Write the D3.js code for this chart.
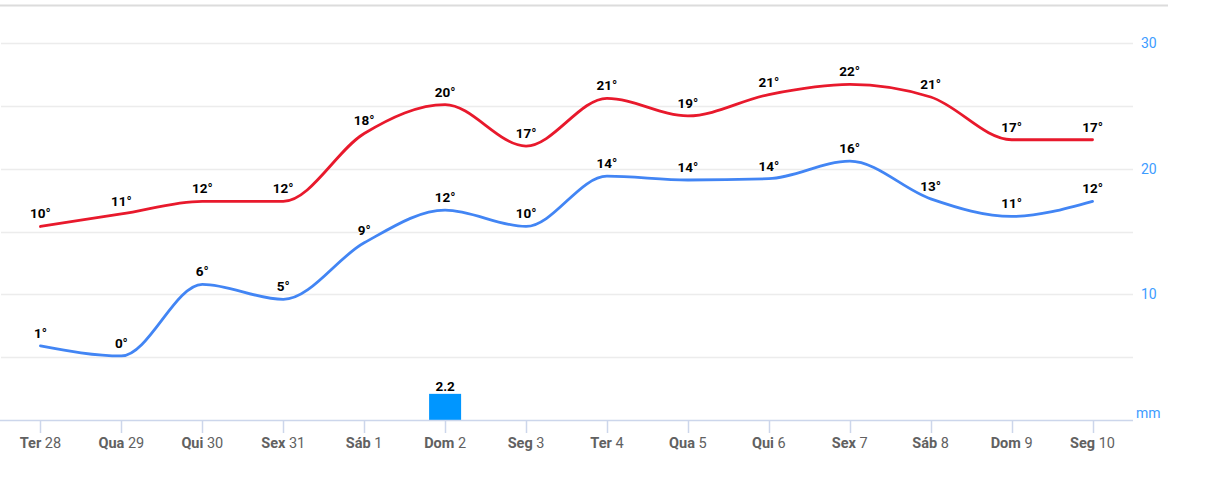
<!DOCTYPE html>
<html>
<head>
<meta charset="utf-8">
<script src="https://cdn.jsdelivr.net/npm/d3@7"></script>
<style>
  html, body { margin: 0; padding: 0; background: #fff; }
  svg { display: block; font-family: Roboto, "Noto Sans", sans-serif; }
</style>
</head>
<body>
<div id="chart"></div>
<script>
// ---- data ----
const dayNames = ["Ter", "Qua", "Qui", "Sex", "Sáb", "Dom", "Seg", "Ter", "Qua", "Qui", "Sex", "Sáb", "Dom", "Seg"];
const dayNums  = ["28", "29", "30", "31", "1", "2", "3", "4", "5", "6", "7", "8", "9", "10"];
const tempMax  = [10.4, 11.4, 12.4, 12.4, 17.8, 20.1, 16.8, 20.6, 19.2, 20.9, 21.7, 20.7, 17.3, 17.3];
const tempMin  = [0.9, 0.1, 5.8, 4.6, 9.1, 11.7, 10.4, 14.4, 14.1, 14.2, 15.6, 12.6, 11.2, 12.4];
const precip   = [0, 0, 0, 0, 0, 2.2, 0, 0, 0, 0, 0, 0, 0, 0];
const precipTicks = [10, 20, 30];
const tempGridTicks = [0, 5, 10, 15, 20, 25];

// ---- layout ----
const W = 1206, H = 501;
const plotLeft = 0, plotRight = 1133, plotTop = 43, plotBottom = 420;

const svg = d3.select("#chart").append("svg").attr("width", W).attr("height", H);

const idx = d3.range(dayNames.length);
const x = d3.scalePoint().domain(idx).range([plotLeft, plotRight]).padding(0.5);
const yT = d3.scaleLinear().domain([-5, 25]).range([plotBottom, plotTop]);
const yP = d3.scaleLinear().domain([0, 30]).range([plotBottom, plotTop]);

// top separator line
svg.append("line").attr("x1", 0).attr("x2", 1168).attr("y1", 5.5).attr("y2", 5.5)
  .attr("stroke", "#dcdcdc").attr("stroke-width", 2);

// gridlines
svg.append("g").selectAll("line").data(tempGridTicks).join("line")
  .attr("x1", plotLeft + 1).attr("x2", plotRight)
  .attr("y1", d => Math.round(yT(d)) + 0.5).attr("y2", d => Math.round(yT(d)) + 0.5)
  .attr("stroke", "#ececec").attr("stroke-width", 1.5);

// precipitation bars
const barW = 32;
svg.append("g").selectAll("rect").data(idx.filter(i => precip[i] > 0)).join("rect")
  .attr("x", i => x(i) - barW / 2)
  .attr("y", i => yP(precip[i]) + 1.5)
  .attr("width", barW)
  .attr("height", i => plotBottom - yP(precip[i]) - 1.5)
  .attr("fill", "#0096ff");

svg.append("g").selectAll("text").data(idx.filter(i => precip[i] > 0)).join("text")
  .attr("x", i => x(i)).attr("y", i => yP(precip[i]) - 1)
  .attr("text-anchor", "middle").attr("font-size", 13.5).attr("font-weight", "bold")
  .attr("fill", "#000")
  .text(i => precip[i].toFixed(1));

// x axis
const xAxisG = svg.append("g");
xAxisG.append("line").attr("x1", plotLeft).attr("x2", plotRight)
  .attr("y1", plotBottom + 0.5).attr("y2", plotBottom + 0.5)
  .attr("stroke", "#ccd6eb").attr("stroke-width", 1.5);
xAxisG.selectAll("line.tick").data(idx).join("line").attr("class", "tick")
  .attr("x1", i => Math.round(x(i)) + 0.5).attr("x2", i => Math.round(x(i)) + 0.5)
  .attr("y1", plotBottom).attr("y2", plotBottom + 13)
  .attr("stroke", "#ccd6eb").attr("stroke-width", 1.5);
const xl = xAxisG.selectAll("text").data(idx).join("text")
  .attr("x", i => x(i)).attr("y", 448)
  .attr("text-anchor", "middle").attr("font-size", 14.5).attr("fill", "#616161");
xl.append("tspan").attr("font-weight", "bold").text(i => dayNames[i]);
xl.append("tspan").text(i => " " + dayNums[i]);

// right precipitation axis labels
svg.append("g").selectAll("text").data(precipTicks).join("text")
  .attr("x", 1141).attr("y", d => yP(d) + 5)
  .attr("font-size", 14).attr("fill", "#3d9cff")
  .text(d => d);
svg.append("text").attr("x", 1136).attr("y", 418)
  .attr("font-size", 14).attr("fill", "#3d9cff").text("mm");

// temperature lines
const line = d3.line().x((d, i) => x(i)).y(d => yT(d)).curve(d3.curveMonotoneX);
svg.append("path").datum(tempMax).attr("d", line)
  .attr("fill", "none").attr("stroke", "#e8192c").attr("stroke-width", 2.8)
  .attr("stroke-linecap", "round");
svg.append("path").datum(tempMin).attr("d", line)
  .attr("fill", "none").attr("stroke", "#4285f4").attr("stroke-width", 2.8)
  .attr("stroke-linecap", "round");

// data labels
function labels(arr) {
  svg.append("g").selectAll("text").data(arr).join("text")
    .attr("x", (d, i) => x(i)).attr("y", d => yT(d) - 8)
    .attr("text-anchor", "middle").attr("font-size", 13.5).attr("font-weight", "bold")
    .attr("fill", "#000").attr("stroke", "#fff").attr("stroke-width", 2)
    .attr("paint-order", "stroke").attr("stroke-linejoin", "round")
    .text(d => Math.round(d) + "°");
}
labels(tempMax);
labels(tempMin);
</script>
</body>
</html>
